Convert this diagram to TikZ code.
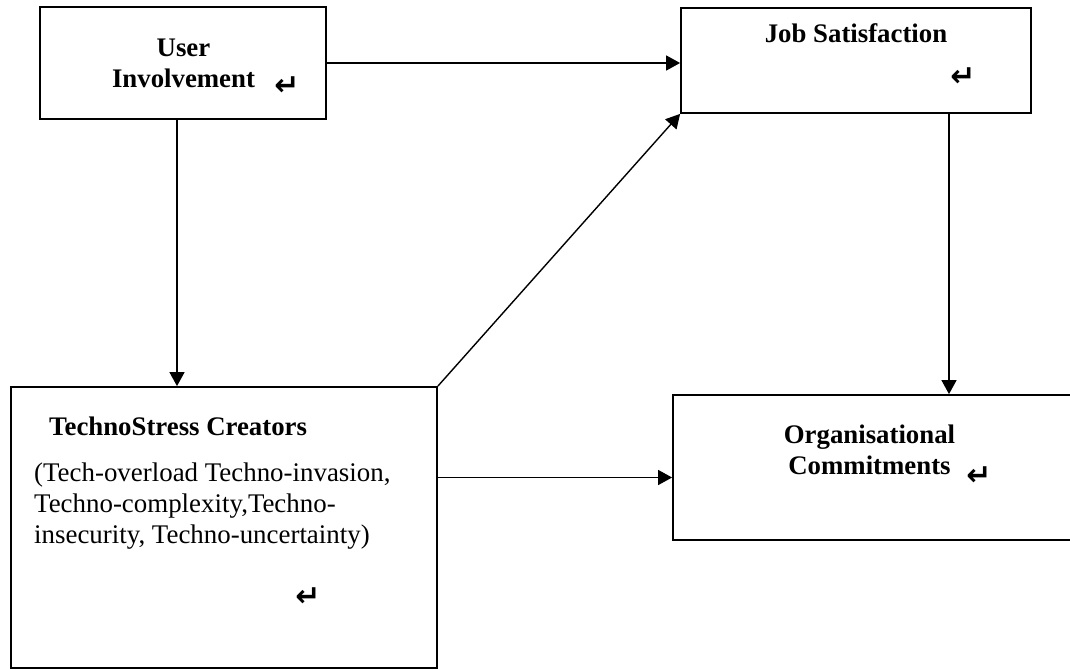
\documentclass[tikz,border=0pt]{standalone}
\usepackage{fontspec}
\setmainfont{Liberation Serif}
\newfontfamily\symfont{DejaVu Sans}
\usetikzlibrary{arrows.meta}
\tikzset{
    >={Triangle[length=14pt,width=15pt]},
    box/.style={draw,line width=1.8pt,inner sep=0pt},
    arr/.style={->,line width=1.4pt},
    title/.style={inner sep=0pt,font=\fontsize{26.8}{30.8}\selectfont\bfseries,align=center},
    body/.style={inner sep=0pt,font=\fontsize{26.9}{30.8}\selectfont,align=left},
    ret/.style={inner sep=0pt,font=\symfont\bfseries\fontsize{30}{30}\selectfont}
}
\newcommand{\retmark}{↵}

\begin{document}
\begin{tikzpicture}[x=1pt,y=-1pt]
  \useasboundingbox (0,0) rectangle (1070,669);

  % boxes
  \node[box,minimum width=286pt,minimum height=112pt] (user) at (183,63) {};
  \node[box,minimum width=350pt,minimum height=105pt] (job) at (856,60.5) {};
  \node[box,minimum width=426pt,minimum height=281pt] (stress) at (224,527.5) {};
  \node[box,minimum width=401pt,minimum height=145pt] (org) at (873.5,467.5) {};

  % texts
  \node[title,anchor=base] (usertxt) at (183.5,87) {User\\Involvement};
  \node[ret] (userret) at (287,86) {\retmark};
  \node[title,anchor=base] (jobtxt) at (856,43) {Job Satisfaction};
  \node[ret] (jobret) at (963,77) {\retmark};
  \node[title,anchor=base west] (stresstxt) at (49,435) {TechnoStress Creators};
  \node[body,anchor=base west] (stressbody) at (34,543)
    {(Tech-overload Techno-invasion,\\Techno-complexity,Techno-\\insecurity, Techno-uncertainty)};
  \node[ret] (stressret) at (308,597) {\retmark};
  \node[title,anchor=base] (orgtxt) at (869.5,474) {Organisational\\Commitments};
  \node[ret] (orgret) at (979,476) {\retmark};

  % links
  \draw[arr] (user.east) -- (user.east -| job.west);
  \draw[arr] ([xshift=-6pt]user.south) -- ([xshift=-6pt]user.south |- stress.north);
  \draw[arr] (stress.north east) -- (job.south west);
  \draw[arr] ([xshift=93pt]job.south) -- ([xshift=93pt]job.south |- org.north);
  \draw[arr] ([yshift=50pt]stress.east) -- ([yshift=50pt]stress.east -| org.west);
\end{tikzpicture}
\end{document}
